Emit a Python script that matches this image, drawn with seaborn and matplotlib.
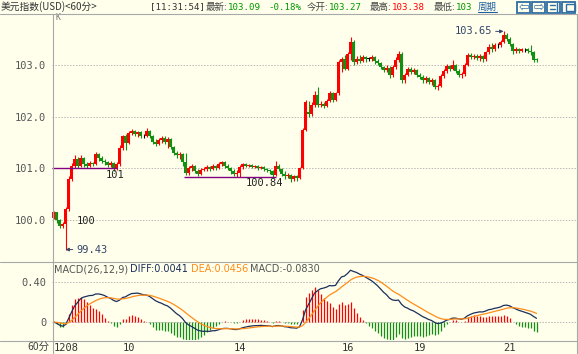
import numpy as np
import pandas as pd
import matplotlib
matplotlib.use('Agg')
import matplotlib.pyplot as plt
from matplotlib.lines import Line2D
from matplotlib.patches import Rectangle
import seaborn as sns

# hourly USD index candles
opens = [100.05, 100.15, 100.00, 99.88, 99.92, 100.22, 100.80, 101.05, 101.18, 101.05,
         101.20, 101.08, 101.05, 101.10, 101.08, 101.28, 101.20, 101.15, 101.12, 101.06,
         101.10, 101.00, 101.08, 101.40, 101.62, 101.50, 101.68, 101.72, 101.66, 101.70,
         101.62, 101.62, 101.72, 101.62, 101.52, 101.48, 101.55, 101.58, 101.52, 101.56,
         101.42, 101.30, 101.25, 101.28, 101.12, 100.92, 101.00, 101.04, 100.95, 100.90,
         100.96, 100.98, 101.02, 100.98, 101.05, 101.00, 101.08, 101.12, 101.05, 101.00,
         100.95, 100.90, 100.92, 101.02, 101.08, 101.05, 101.06, 101.03, 101.04, 101.00,
         101.02, 100.98, 100.96, 100.94, 100.88, 101.05, 100.98, 100.90, 100.85, 100.88,
         100.80, 100.85, 100.82, 101.00, 101.75, 102.10, 102.05, 102.22, 102.42, 102.22,
         102.25, 102.20, 102.30, 102.45, 102.32, 102.45, 103.05, 103.12, 102.92, 103.22,
         103.45, 103.05, 103.12, 103.08, 103.15, 103.12, 103.12, 103.16, 103.08, 103.04,
         102.96, 102.90, 102.95, 102.80, 102.96, 103.10, 103.22, 102.70, 102.80, 102.92,
         102.86, 102.90, 102.80, 102.76, 102.70, 102.74, 102.68, 102.70, 102.58, 102.60,
         102.78, 102.88, 102.98, 102.92, 103.00, 102.88, 102.80, 102.82, 103.00, 103.20,
         103.15, 103.18, 103.14, 103.18, 103.12, 103.25, 103.35, 103.30, 103.38, 103.38,
         103.45, 103.58, 103.50, 103.40, 103.28, 103.30, 103.28, 103.30, 103.30, 103.28,
         103.25, 103.12]
closes = [100.15, 100.00, 99.88, 99.92, 100.22, 100.80, 101.05, 101.18, 101.05, 101.20,
          101.08, 101.05, 101.10, 101.08, 101.28, 101.20, 101.15, 101.12, 101.06, 101.10,
          101.00, 101.08, 101.40, 101.62, 101.50, 101.68, 101.72, 101.66, 101.70, 101.62,
          101.62, 101.72, 101.62, 101.52, 101.48, 101.55, 101.58, 101.52, 101.56, 101.42,
          101.30, 101.25, 101.28, 101.12, 100.92, 101.00, 101.04, 100.95, 100.90, 100.96,
          100.98, 101.02, 100.98, 101.05, 101.00, 101.08, 101.12, 101.05, 101.00, 100.95,
          100.90, 100.92, 101.02, 101.08, 101.05, 101.06, 101.03, 101.04, 101.00, 101.02,
          100.98, 100.96, 100.94, 100.88, 101.05, 100.98, 100.90, 100.85, 100.88, 100.80,
          100.85, 100.82, 101.00, 101.75, 102.28, 102.05, 102.22, 102.42, 102.22, 102.25,
          102.20, 102.30, 102.45, 102.32, 102.45, 103.05, 103.12, 102.92, 103.22, 103.45,
          103.05, 103.12, 103.08, 103.15, 103.12, 103.12, 103.16, 103.08, 103.04, 102.96,
          102.90, 102.95, 102.80, 102.96, 103.10, 103.22, 102.70, 102.80, 102.92, 102.86,
          102.90, 102.80, 102.76, 102.70, 102.74, 102.68, 102.70, 102.58, 102.60, 102.78,
          102.88, 102.98, 102.92, 103.00, 102.88, 102.80, 102.82, 103.00, 103.20, 103.15,
          103.18, 103.14, 103.18, 103.12, 103.25, 103.35, 103.30, 103.38, 103.38, 103.45,
          103.58, 103.50, 103.40, 103.28, 103.30, 103.28, 103.30, 103.30, 103.28, 103.25,
          103.10, 103.09]
highs = [100.18, 100.16, 100.02, 99.96, 100.25, 100.85, 101.10, 101.25, 101.22, 101.25,
         101.22, 101.12, 101.14, 101.12, 101.32, 101.30, 101.24, 101.18, 101.15, 101.14,
         101.12, 101.12, 101.45, 101.65, 101.66, 101.72, 101.76, 101.75, 101.73, 101.72,
         101.66, 101.78, 101.74, 101.64, 101.56, 101.58, 101.62, 101.62, 101.60, 101.58,
         101.44, 101.34, 101.32, 101.30, 101.30, 101.04, 101.08, 101.06, 100.98, 101.00,
         101.02, 101.06, 101.04, 101.08, 101.07, 101.12, 101.15, 101.14, 101.08, 101.02,
         100.98, 100.96, 101.06, 101.10, 101.10, 101.08, 101.08, 101.06, 101.06, 101.04,
         101.04, 101.00, 100.98, 100.96, 101.14, 101.08, 101.00, 100.94, 100.92, 100.90,
         100.88, 100.88, 101.02, 101.78, 102.32, 102.30, 102.28, 102.50, 102.58, 102.30,
         102.28, 102.34, 102.50, 102.47, 102.48, 103.10, 103.15, 103.20, 103.25, 103.55,
         103.48, 103.18, 103.19, 103.20, 103.18, 103.16, 103.20, 103.18, 103.12, 103.06,
         102.98, 103.00, 102.98, 103.00, 103.15, 103.28, 103.25, 102.84, 102.96, 102.96,
         102.94, 102.92, 102.84, 102.80, 102.78, 102.76, 102.74, 102.72, 102.64, 102.82,
         102.92, 103.02, 103.00, 103.10, 103.02, 102.92, 102.86, 103.04, 103.24, 103.23,
         103.22, 103.22, 103.22, 103.20, 103.28, 103.40, 103.42, 103.42, 103.42, 103.48,
         103.65, 103.62, 103.54, 103.42, 103.34, 103.33, 103.32, 103.32, 103.33, 103.38,
         103.27, 103.14]
lows = [100.02, 99.95, 99.84, 99.85, 99.43, 100.18, 100.75, 101.00, 101.00, 101.02,
        101.03, 101.00, 101.02, 101.04, 101.06, 101.15, 101.10, 101.06, 101.02, 101.03,
        100.95, 100.96, 101.05, 101.35, 101.35, 101.48, 101.64, 101.62, 101.60, 101.58,
        101.58, 101.60, 101.58, 101.48, 101.44, 101.45, 101.50, 101.48, 101.40, 101.38,
        101.26, 101.20, 101.18, 101.05, 100.88, 100.88, 100.94, 100.92, 100.86, 100.88,
        100.94, 100.95, 100.94, 100.96, 100.97, 100.98, 101.04, 101.00, 100.96, 100.90,
        100.85, 100.84, 100.84, 100.98, 101.02, 101.02, 101.00, 101.00, 100.97, 100.98,
        100.95, 100.93, 100.90, 100.84, 100.86, 100.94, 100.86, 100.80, 100.82, 100.74,
        100.76, 100.76, 100.80, 100.98, 101.72, 102.00, 102.02, 102.18, 102.18, 102.18,
        102.16, 102.18, 102.28, 102.28, 102.30, 102.42, 102.86, 102.90, 102.90, 103.10,
        103.00, 103.02, 103.04, 103.05, 103.06, 103.08, 103.08, 103.02, 103.00, 102.92,
        102.86, 102.86, 102.75, 102.76, 102.92, 103.05, 102.65, 102.66, 102.78, 102.82,
        102.82, 102.76, 102.72, 102.66, 102.66, 102.64, 102.62, 102.54, 102.52, 102.58,
        102.74, 102.85, 102.88, 102.90, 102.85, 102.76, 102.75, 102.78, 102.98, 103.12,
        103.12, 103.10, 103.08, 103.06, 103.08, 103.22, 103.26, 103.28, 103.32, 103.35,
        103.42, 103.46, 103.36, 103.22, 103.24, 103.24, 103.25, 103.26, 103.24, 103.20,
        103.06, 103.06]

price_ticks = [100.0, 101.0, 102.0, 103.0]
macd_ticks = [0.0, 0.40]
macd_tick_labels = ['0', '0.40']
day_pos = [0, 23, 60, 96, 120, 150]
day_labels = ['1208', '10', '14', '16', '19', '21']
level_values = [101.0, 100.84]
level_labels = ['101', '100.84']
level_start = [-0.5, 43.5]
level_end = [21, 74]

W, H = 578, 354
BG = '#FFFFEC'
RED = '#FF0000'
GREEN = '#129012'
GRAYTXT = '#555555'
NAVY = '#1C2F5A'
ORANGE = '#FF8C1A'
BLUE = '#2F6EA5'
MONO = 'DejaVu Sans Mono'
CJK = ['Noto Sans CJK SC', 'DejaVu Sans']

sns.set_theme(style='white')
plt.rcParams['font.family'] = CJK


def fx(px):
    return px / W


def fy(py):
    return 1 - py / H


df = pd.DataFrame({'open': opens, 'close': closes, 'high': highs, 'low': lows})
df['idx'] = np.arange(len(df))
ema12 = df['close'].ewm(span=12, adjust=False).mean()
ema26 = df['close'].ewm(span=26, adjust=False).mean()
df['diff'] = ema12 - ema26
df['dea'] = df['diff'].ewm(span=9, adjust=False).mean()
df['macd'] = 2 * (df['diff'] - df['dea'])

col = np.where(df['close'] > df['open'], RED, np.where(df['close'] < df['open'], GREEN, '#000000'))

fig = plt.figure(figsize=(W / 100, H / 100), dpi=100, facecolor=BG)
ax = fig.add_axes([fx(52), fy(261), 524 / W, 247 / H])
axm = fig.add_axes([fx(52), fy(340), 524 / W, 78 / H])
xmax = (576 - 53.5) / 3

# price panel
ax.set_facecolor('none')
ax.vlines(df['idx'], df['low'], df['high'], colors=col, lw=0.8)
body = np.maximum((df['close'] - df['open']).abs(), 0.012)
ax.bar(df['idx'], body, bottom=np.minimum(df['open'], df['close']), width=0.7,
       color=col, linewidth=0)
ax.set_xlim(-0.5, xmax)
ax.set_ylim(99.209, 103.986)
ax.set_yticks(price_ticks)
ax.set_yticklabels([f'{v:.1f}' for v in price_ticks], family=MONO)
ax.set_xticks([])
ax.tick_params(axis='y', length=0, pad=4, labelsize=7.5, labelcolor=GRAYTXT)
ax.grid(axis='y', color='#B8B8B8', linestyle=(0, (1.5, 1.5)), lw=0.7)
ax.set_axisbelow(True)
for s in ax.spines.values():
    s.set_visible(False)

for v, lab, x0, x1 in zip(level_values, level_labels, level_start, level_end):
    ax.hlines(v, x0, x1, color='#800080', lw=1)
    ax.text(x1 + 2.5, v - 0.13, lab, family=MONO, fontsize=7.5, color='#222222',
            va='center', ha='right')
ax.text(7.8, 99.98, '100', family=MONO, fontsize=7.5, color='#222222', va='center')

imin = int(df['low'].idxmin())
imax = int(df['high'].idxmax())
ax.annotate(f"{df['low'][imin]:.2f}", xy=(imin, df['low'][imin]), xytext=(7.5, 0),
            textcoords='offset points', family=MONO, fontsize=7.5, color='#34466A',
            va='center', ha='left',
            arrowprops=dict(arrowstyle='-|>', color='#34466A', lw=0.7, mutation_scale=5,
                            shrinkA=0, shrinkB=0))
ax.annotate(f"{df['high'][imax]:.2f}", xy=(imax, df['high'][imax]), xytext=(-8, 0),
            textcoords='offset points', family=MONO, fontsize=7.5, color='#34466A',
            va='center', ha='right',
            arrowprops=dict(arrowstyle='-|>', color='#34466A', lw=0.7, mutation_scale=5,
                            shrinkA=0, shrinkB=0))
ax.text(0.6, 103.92, 'K', family=MONO, fontsize=6, color='#777777', va='center')

# MACD panel
axm.set_facecolor('none')
hist_col = np.where(df['macd'] >= 0, RED, GREEN)
axm.vlines(df['idx'], 0, df['macd'], colors=hist_col, lw=0.9)
sns.lineplot(x=df['idx'], y=df['diff'], ax=axm, color=NAVY, linewidth=0.9)
sns.lineplot(x=df['idx'], y=df['dea'], ax=axm, color=ORANGE, linewidth=0.9)
axm.set_xlim(-0.5, xmax)
axm.set_ylim(-0.18, 0.60)
axm.set_yticks(macd_ticks)
axm.set_yticklabels(macd_tick_labels, family=MONO)
axm.set_xticks(day_pos)
axm.set_xticklabels(day_labels, family=MONO)
for lbl in axm.get_xticklabels():
    lbl.set_ha('left')
axm.tick_params(axis='y', length=0, pad=4, labelsize=7.5, labelcolor=GRAYTXT)
axm.tick_params(axis='x', length=0, pad=2.5, labelsize=7.5, labelcolor='#333333')
axm.set_xlabel('')
axm.set_ylabel('')
axm.grid(axis='y', color='#B8B8B8', linestyle=(0, (1.5, 1.5)), lw=0.7)
axm.set_axisbelow(True)
for s in axm.spines.values():
    s.set_visible(False)

title_parts = [('MACD(26,12,9)', GRAYTXT, 54), ('DIFF:0.0041', NAVY, 130),
               ('DEA:0.0456', ORANGE, 191), ('MACD:-0.0830', GRAYTXT, 250)]
for txt, c, px in title_parts:
    fig.text(fx(px), fy(269), txt, fontsize=7, color=c, va='center', family='DejaVu Sans')

# frame lines
frame = '#A8A8A8'
fig.add_artist(Line2D([0, 1], [fy(13.5), fy(13.5)], color=frame, lw=0.8))
fig.add_artist(Line2D([fx(52.5), fx(52.5)], [fy(13.5), 0], color=frame, lw=0.8))
fig.add_artist(Line2D([0, fx(577)], [fy(261.5), fy(261.5)], color=frame, lw=0.8))
fig.add_artist(Line2D([0, fx(577)], [fy(340.5), fy(340.5)], color=frame, lw=0.8))
fig.add_artist(Line2D([fx(576.5), fx(576.5)], [fy(13.5), 0], color=frame, lw=0.8))

# header: groups of (start px, [(text, colour, family), ...]) laid out left to right
hy = fy(7)
fig.text(fx(1), hy, '美元指数(USD)<60分>', fontsize=7, color='#333333', va='center')
groups = [(150, [('[11:31:54]', '#333333', MONO)]),
          (206, [('最新:', '#444444', CJK), ('103.09', '#009900', MONO)]),
          (268, [('-0.18%', '#009900', MONO)]),
          (307, [('今开:', '#444444', CJK), ('103.27', '#009900', MONO)]),
          (370, [('最高:', '#444444', CJK), ('103.38', '#FF0000', MONO)]),
          (434, [('最低:', '#444444', CJK), ('103', '#009900', MONO)]),
          (478, [('周期', '#1F5FA0', CJK)])]
renderer = fig.canvas.get_renderer()
for px, pieces in groups:
    cur = px
    for txt, c, fam in pieces:
        size = 6.6 if fam == MONO else 6.8
        t = fig.text(fx(cur), hy, txt, fontsize=size, color=c, va='center', family=fam)
        bb = t.get_window_extent(renderer=renderer)
        cur += bb.width
fig.add_artist(Line2D([fx(478), fx(497)], [fy(12), fy(12)], color='#1F5FA0', lw=0.8))

icons = ['⇦', '⇨', '', '']
for k, sym in enumerate(icons):
    x0 = 517 + k * 15
    fig.add_artist(Rectangle((fx(x0), fy(12.5)), 13 / W, 11 / H, fill=False,
                             edgecolor=BLUE, lw=1.3))
    if sym:
        fig.text(fx(x0 + 6.5), fy(7.5), sym, fontsize=9, color=BLUE,
                 ha='center', va='center', family='DejaVu Sans')
fig.add_artist(Line2D([fx(550), fx(555)], [fy(5), fy(5)], color=BLUE, lw=1))
fig.add_artist(Line2D([fx(550), fx(555)], [fy(9), fy(9)], color=BLUE, lw=1))
fig.add_artist(Line2D([fx(557), fx(557)], [fy(3), fy(12)], color=BLUE, lw=1))
fig.add_artist(Rectangle((fx(565.5), fy(10.5)), 9 / W, 7 / H, fill=False,
                         edgecolor=BLUE, lw=1))

fig.text(fx(27), fy(347), '60分', fontsize=7.5, color='#444444', va='center')

fig.savefig('out.png', dpi=100, facecolor=BG)
